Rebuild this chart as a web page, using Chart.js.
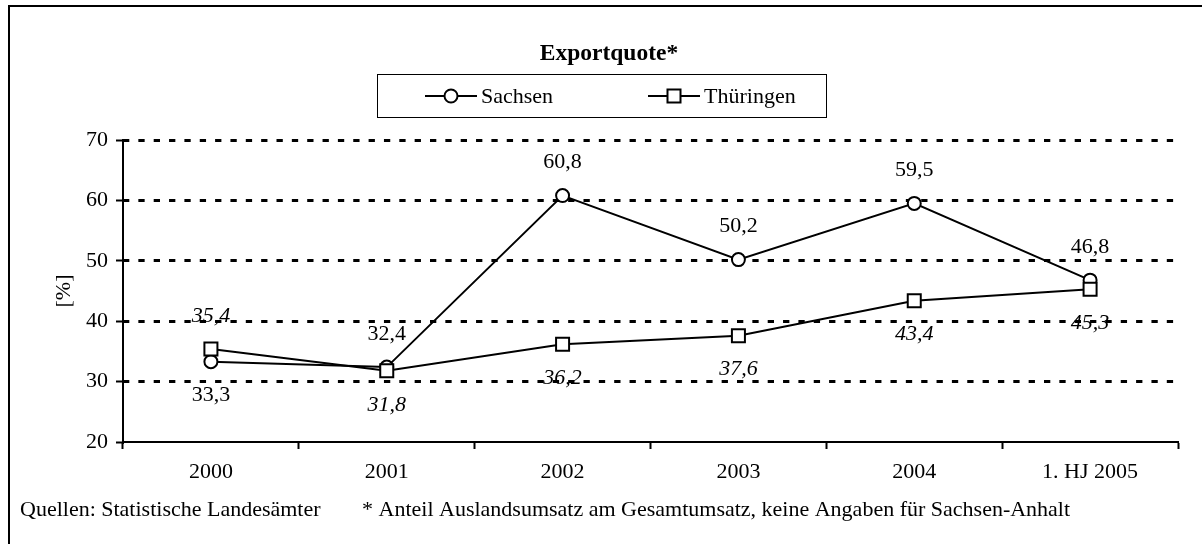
<!DOCTYPE html>
<html>
<head>
<meta charset="utf-8">
<script src="https://cdn.jsdelivr.net/npm/chart.js@4.4.1/dist/chart.umd.min.js"></script>
<style>
html,body{margin:0;padding:0;background:#fff;}
#wrap{width:1202px;height:544px;position:relative;}
canvas{display:block;}
</style>
</head>
<body>
<div id="wrap"><canvas id="c" width="1202" height="544"></canvas></div>
<script>
// ---- data ----
const categories = ['2000', '2001', '2002', '2003', '2004', '1. HJ 2005'];
const sachsen = [33.3, 32.4, 60.8, 50.2, 59.5, 46.8];
const thueringen = [35.4, 31.8, 36.2, 37.6, 43.4, 45.3];
const yTickValues = [20, 30, 40, 50, 60, 70];
const seriesNames = ['Sachsen', 'Thüringen'];
const chartTitle = 'Exportquote*';
const yAxisTitle = '[%]';
const sourceNote = 'Quellen: Statistische Landesämter';
const footNote = '* Anteil Auslandsumsatz am Gesamtumsatz, keine Angaben für Sachsen-Anhalt';
const sachsenLabelSide = ['below', 'above', 'above', 'above', 'above', 'above'];
const thueringenLabelSide = ['above', 'below', 'below', 'below', 'below', 'below'];

// ---- style ----
const FONT = '"Liberation Serif", "Times New Roman", serif';
const FS = 22;

function drawMarker(ctx, style, r, x, y) {
  ctx.save();
  ctx.fillStyle = '#fff';
  ctx.strokeStyle = '#000';
  ctx.lineWidth = 2;
  ctx.beginPath();
  if (style === 'rect') {
    const s = Math.SQRT1_2 * r;
    ctx.rect(x - s, y - s, 2 * s, 2 * s);
  } else {
    ctx.arc(x, y, r, 0, Math.PI * 2);
  }
  ctx.fill();
  ctx.stroke();
  ctx.restore();
}

const decorPlugin = {
  id: 'decor',
  afterDraw(chart) {
    const ctx = chart.ctx;
    ctx.save();
    // outer frame
    ctx.strokeStyle = '#000';
    ctx.lineWidth = 2;
    ctx.strokeRect(9, 6, 1400, 1000);
    // title
    ctx.fillStyle = '#000';
    ctx.font = 'bold 23.5px ' + FONT;
    ctx.textAlign = 'center';
    ctx.textBaseline = 'alphabetic';
    ctx.fillText(chartTitle, 609, 60);
    // legend box
    ctx.lineWidth = 1;
    ctx.strokeStyle = '#000';
    ctx.strokeRect(377.5, 74.5, 449, 43);
    const items = [
      {lx: 425, tx: 481},
      {lx: 648, tx: 704}
    ];
    chart.data.datasets.forEach((ds, i) => {
      const it = items[i];
      ctx.beginPath();
      ctx.lineWidth = 2;
      ctx.strokeStyle = '#000';
      ctx.moveTo(it.lx, 96);
      ctx.lineTo(it.lx + 52, 96);
      ctx.stroke();
      drawMarker(ctx, ds.pointStyle, ds.pointRadius, it.lx + 26, 96);
      ctx.font = FS + 'px ' + FONT;
      ctx.textAlign = 'left';
      ctx.textBaseline = 'alphabetic';
      ctx.fillStyle = '#000';
      ctx.fillText(ds.label, it.tx, 103);
    });
    // footnotes
    ctx.font = FS + 'px ' + FONT;
    ctx.textAlign = 'left';
    ctx.fillText(sourceNote, 20, 516);
    ctx.fillText(footNote, 362, 516);
    ctx.restore();
  }
};

const valueLabelPlugin = {
  id: 'valueLabels',
  afterDatasetsDraw(chart) {
    const ctx = chart.ctx;
    ctx.save();
    ctx.fillStyle = '#000';
    ctx.textAlign = 'center';
    ctx.textBaseline = 'middle';
    chart.data.datasets.forEach((ds, i) => {
      const meta = chart.getDatasetMeta(i);
      ctx.font = (ds.labelItalic ? 'italic ' : '') + FS + 'px ' + FONT;
      meta.data.forEach((pt, j) => {
        const side = ds.labelSide[j];
        const y = side === 'above' ? pt.y - 33 : pt.y + 34;
        ctx.fillText(ds.data[j].toFixed(1).replace('.', ','), pt.x, y);
      });
    });
    ctx.restore();
  }
};

new Chart(document.getElementById('c'), {
  type: 'line',
  data: {
    labels: categories,
    datasets: [
      {
        label: seriesNames[0],
        data: sachsen,
        borderColor: '#000',
        borderWidth: 2,
        pointStyle: 'circle',
        pointRadius: 6.5,
        pointBorderWidth: 2,
        pointBackgroundColor: '#fff',
        pointBorderColor: '#000',
        tension: 0,
        order: 1,
        labelSide: sachsenLabelSide,
        labelItalic: false
      },
      {
        label: seriesNames[1],
        data: thueringen,
        borderColor: '#000',
        borderWidth: 2,
        pointStyle: 'rect',
        pointRadius: 9.2,
        pointBorderWidth: 2,
        pointBackgroundColor: '#fff',
        pointBorderColor: '#000',
        tension: 0,
        order: 0,
        labelSide: thueringenLabelSide,
        labelItalic: true
      }
    ]
  },
  options: {
    responsive: false,
    animation: false,
    devicePixelRatio: 1,
    layout: { padding: { left: 0, top: 140, right: 24, bottom: 62 } },
    plugins: {
      legend: { display: false },
      tooltip: { enabled: false },
      title: { display: false }
    },
    scales: {
      x: {
        type: 'category',
        offset: true,
        grid: {
          offset: true,
          drawOnChartArea: false,
          drawTicks: true,
          tickLength: 7,
          tickWidth: 2,
          tickColor: '#000'
        },
        border: { display: true, color: '#000', width: 2 },
        ticks: {
          color: '#000',
          font: { family: FONT, size: FS },
          padding: 10,
          maxRotation: 0,
          autoSkip: false
        },
        afterFit(s) { s.height = 40; }
      },
      y: {
        min: 20,
        max: 70,
        afterBuildTicks(s) { s.ticks = yTickValues.map(v => ({ value: v })); },
        grid: {
          color: c => (c.tick && c.tick.value === 20) ? 'rgba(0,0,0,0)' : '#000',
          lineWidth: 3,
          drawTicks: true,
          tickLength: 7,
          tickWidth: 2,
          tickColor: '#000'
        },
        border: { display: true, color: '#000', width: 2, dash: [6.3, 9.05], dashOffset: 1 },
        ticks: {
          color: '#000',
          font: { family: FONT, size: FS },
          padding: 8
        },
        title: {
          display: true,
          text: yAxisTitle,
          color: '#000',
          font: { family: FONT, size: FS },
          padding: { top: 51, bottom: 0 }
        },
        afterFit(s) { s.width = 123; }
      }
    }
  },
  plugins: [valueLabelPlugin, decorPlugin]
});
</script>
</body>
</html>
